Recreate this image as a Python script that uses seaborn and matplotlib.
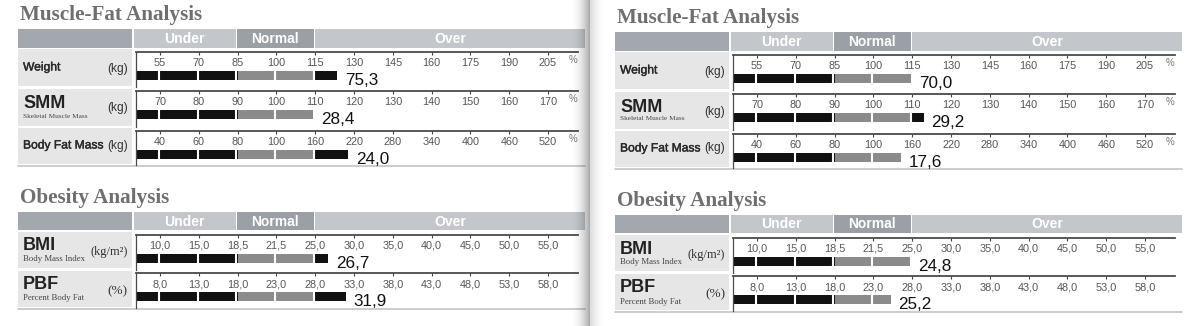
import numpy as np
import pandas as pd
import matplotlib
matplotlib.use("Agg")
import matplotlib.pyplot as plt
import matplotlib.patheffects as pe
import seaborn as sns
from matplotlib.patches import Rectangle
from matplotlib import font_manager as fm

sns.set_theme(style="white")
plt.rcParams["font.family"] = ["Liberation Sans", "DejaVu Sans"]

names = {f.name for f in fm.fontManager.ttflist}
NARROW = "Liberation Sans Narrow" if "Liberation Sans Narrow" in names else "Liberation Sans"
NSCALE = 1.0 if NARROW == "Liberation Sans Narrow" else 0.82

# -------------------------------
# data (read off the two report pages)
# -------------------------------
row_names = ["Weight", "SMM", "Body Fat Mass", "BMI", "PBF"]
weight_ticks = [55, 70, 85, 100, 115, 130, 145, 160, 175, 190, 205]
smm_ticks = [70, 80, 90, 100, 110, 120, 130, 140, 150, 160, 170]
bfm_ticks = [40, 60, 80, 100, 160, 220, 280, 340, 400, 460, 520]
bmi_ticks = [10.0, 15.0, 18.5, 21.5, 25.0, 30.0, 35.0, 40.0, 45.0, 50.0, 55.0]
pbf_ticks = [8.0, 13.0, 18.0, 23.0, 28.0, 33.0, 38.0, 43.0, 48.0, 53.0, 58.0]
all_ticks = [weight_ticks, smm_ticks, bfm_ticks, bmi_ticks, pbf_ticks]
pct_rows = [True, True, True, False, False]   # scale in % of standard

# bar length on each row's scale
left_bar = [123.5, 109.5, 211.0, 26.7, 31.9]
right_bar = [114.7, 112.9, 142.6, 24.8, 25.2]
# printed values
left_value = [75.3, 28.4, 24.0, 26.7, 31.9]
right_value = [70.0, 29.2, 17.6, 24.8, 25.2]


def fmt(v):
    return f"{v:.1f}".replace(".", ",")


def tick_labels(ticks, decimal):
    return [fmt(t) if decimal else str(t) for t in ticks]


# -------------------------------
# layout (pixels, left page)
# -------------------------------
W, H = 1189, 326
EDGE = 0.62          # left edge of bar area, in tick units
UNIT = 38.8          # pixels per tick interval
X0, X1 = 136, 578    # bar area
blocks = [
    dict(title="Muscle-Fat Analysis", title_y=15, head=(29, 48),
         rows=[(49, 38), (88.5, 38.5), (128, 37)], bottom=165.5, idx=[0, 1, 2]),
    dict(title="Obesity Analysis", title_y=198, head=(212, 230),
         rows=[(232, 37.5), (270.5, 37.5)], bottom=308.5, idx=[3, 4]),
]
# label text placement per row: (main, sub, unit, main_dy, sub_dy, unit_dy)
label_specs = [
    ("Weight", None, "(kg)", 21.5, None, 23),
    ("SMM", "Skeletal Muscle Mass", "(kg)", 20, 29, 23),
    ("Body Fat Mass", None, "(kg)", 20.5, None, 20.5),
    ("BMI", "Body Mass Index", "(kg/m²)", 18.5, 29, 23),
    ("PBF", "Percent Body Fat", "(%)", 18.5, 30, 24),
]

HEAD_LABEL = "#a3a8ae"
HEAD_LIGHT = "#c3c7cb"
HEAD_DARK = "#9ba0a6"
CELL = "#e6e6e7"
BLACK = "#111111"
GRAY = "#8b8b8b"
thick = [pe.withStroke(linewidth=0.3, foreground="#2a2a2a")]

fig = plt.figure(figsize=(W / 100, H / 100), dpi=100)
bg = fig.add_axes([0, 0, 1, 1])
bg.set_xlim(0, W)
bg.set_ylim(H, 0)
bg.axis("off")


def draw_row(ax, ticks, bar, value, decimal, pct, h):
    idx = np.arange(len(ticks)) + EDGE
    p = np.interp(bar, ticks, idx)
    layers = [(p, BLACK), (min(p, 4 + EDGE), GRAY), (min(p, 2 + EDGE), BLACK)]
    for end, c in layers:
        df = pd.DataFrame({"row": ["bar"], "end": [end]})
        sns.barplot(data=df, x="end", y="row", orient="y", color=c, width=9,
                    saturation=1, errorbar=None, linewidth=0, ax=ax)
    for t in idx:
        if t < p - 0.05:
            ax.vlines(t - 0.03, -5.5, 5.5, color="white", lw=1.5, zorder=5)
    ax.set_xlim(0, (X1 - X0) / UNIT)
    ax.set_ylim(h - 23.5, -23.5)
    ax.set_xlabel("")
    ax.set_ylabel("")
    ax.set_yticks([])
    ax.set_xticks(idx, tick_labels(ticks, decimal))
    ax.xaxis.set_ticks_position("top")
    ax.tick_params(axis="x", top=True, bottom=False, labeltop=True, labelbottom=False,
                   direction="in", length=2.5, width=0.8, color="#444444",
                   pad=-11.8, labelsize=7.8, labelcolor="#555555")
    for s in ["bottom", "right"]:
        ax.spines[s].set_visible(False)
    ax.spines["top"].set_color("#4a4a4a")
    ax.spines["top"].set_linewidth(1.3)
    ax.spines["left"].set_color("#4a4a4a")
    ax.spines["left"].set_linewidth(0.9)
    ax.patch.set_alpha(0)
    if pct:
        ax.text(11.26, -15, "%", fontsize=7, color="#777777", ha="center", va="center")
    ax.text(p + 0.2, 9.8, fmt(value), fontsize=12.3, color=BLACK, ha="left", va="baseline")


def draw_panel(ox, oy, bars, values):
    for b in blocks:
        bg.text(20 + ox, b["title_y"] + oy, b["title"], family="Liberation Serif",
                fontweight="bold", fontsize=15.2, color="#6f6f6f", va="center", ha="left")
        y0, y1 = b["head"][0] + oy, b["head"][1] + oy
        segs = [(18, 132, HEAD_LABEL, None), (133.5, 235.5, HEAD_LIGHT, "Under"),
                (237, 313.5, HEAD_DARK, "Normal"), (315, 585, HEAD_LIGHT, "Over")]
        for xa, xb, c, lab in segs:
            bg.add_patch(Rectangle((xa + ox, y0), xb - xa, y1 - y0, color=c, lw=0))
            if lab:
                bg.text((xa + xb) / 2 + ox, (y0 + y1) / 2 + 0.5, lab, color="white",
                        fontweight="bold", fontsize=10, ha="center", va="center")
        for (top, rh), i in zip(b["rows"], b["idx"]):
            top = top + oy
            bg.add_patch(Rectangle((18 + ox, top), 114, rh - 1.5, color=CELL, lw=0))
            main, sub, unit, mdy, sdy, udy = label_specs[i]
            if sub is None:
                bg.text(23 + ox, top + mdy, main, family=NARROW, fontsize=10.6 * NSCALE,
                        color="#2a2a2a", va="baseline", path_effects=thick)
            else:
                bg.text(23 + ox, top + mdy, main, fontweight="bold", fontsize=13,
                        color="#222222", va="baseline")
                bg.text(23 + ox, top + sdy, sub, family="Liberation Serif",
                        fontsize=5.2 if i == 1 else 6.3, color="#444444", va="baseline")
            if unit == "(kg)":
                bg.text(128 + ox, top + udy, unit, family=NARROW, fontsize=10.5 * NSCALE,
                        color="#333333", ha="right", va="baseline")
            else:
                bg.text(128 + ox, top + udy, unit, family="Liberation Serif",
                        fontsize=9 if "m" in unit else 9.5,
                        color="#333333", ha="right", va="baseline")
            # bar axis for this row
            ytop = top + 2.5
            h = rh - 2.5
            ax = fig.add_axes([(X0 + ox) / W, 1 - (ytop + h) / H, (X1 - X0) / W, h / H])
            draw_row(ax, all_ticks[i], bars[i], values[i], not pct_rows[i], pct_rows[i], h)
        yb = b["bottom"] + oy
        bg.plot([18 + ox, 585 + ox], [yb, yb], color="#c4c4c4", lw=1.2)


draw_panel(0, 0, left_bar, left_value)
draw_panel(597, 3, right_bar, right_value)

# page fold shading
shade = fig.add_axes([0, 0, 1, 1], zorder=50)
shade.set_xlim(0, W)
shade.set_ylim(H, 0)
shade.axis("off")
ramp1 = np.linspace(0, 1, 64) ** 2 * 0.34
ramp2 = np.linspace(1, 0, 32) ** 1.5 * 0.14
for xa, xb, ramp in [(570, 590, ramp1), (590, 604, ramp2)]:
    img = np.zeros((1, len(ramp), 4))
    img[0, :, 3] = ramp
    shade.imshow(img, extent=(xa, xb, H, 0), aspect="auto", interpolation="bilinear")
shade.set_xlim(0, W)
shade.set_ylim(H, 0)

fig.savefig("out.png", dpi=100)
